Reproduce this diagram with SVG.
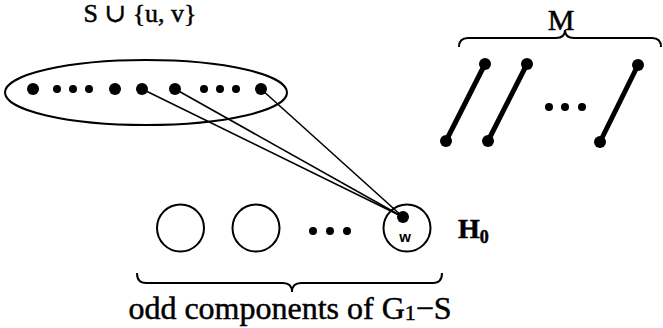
<svg xmlns="http://www.w3.org/2000/svg" width="663" height="328" viewBox="0 0 663 328">
<style>
.t{font-family:"Liberation Serif","DejaVu Serif",serif;fill:#000;stroke:#000;stroke-width:0.5}
.thin{fill:none;stroke:#000;stroke-width:2}
.edge{fill:none;stroke:#000;stroke-width:1.6}
.match{fill:none;stroke:#000;stroke-width:5;stroke-linecap:round}
.big{fill:#000}
</style>
<rect width="663" height="328" fill="#fff"/>
<g id="label-set"><text class="t" x="140" y="22" font-size="26" text-anchor="middle">S ∪ {u, v}</text></g>
<g id="connectors">
<line class="edge" x1="142" y1="89" x2="403" y2="217"/>
<line class="edge" x1="175" y1="89" x2="403" y2="217"/>
<line class="edge" x1="261" y1="89" x2="403" y2="217"/>
</g>
<g id="set-ellipse">
<ellipse class="thin" cx="146" cy="92.5" rx="141" ry="32.5"/>
<circle class="big" cx="33" cy="89" r="6"/>
<circle class="big" cx="57" cy="89" r="4"/>
<circle class="big" cx="73" cy="89" r="4"/>
<circle class="big" cx="89" cy="89" r="4"/>
<circle class="big" cx="115" cy="89" r="6"/>
<circle class="big" cx="142" cy="89" r="6"/>
<circle class="big" cx="175" cy="89" r="6"/>
<circle class="big" cx="204" cy="89" r="4"/>
<circle class="big" cx="220" cy="89" r="4"/>
<circle class="big" cx="236" cy="89" r="4"/>
<circle class="big" cx="261" cy="89" r="6"/>
</g>
<g id="matching-M">
<path class="thin" d="M459 47 Q459 38 468 38 L556 38 Q565 38 565 30 Q565 38 574 38 L652 38 Q661 38 661 47"/>
<text class="t" x="561" y="30" font-size="30" text-anchor="middle">M</text>
<line class="match" x1="485" y1="64" x2="446" y2="141"/>
<circle class="big" cx="485" cy="64" r="6"/><circle class="big" cx="446" cy="141" r="6"/>
<line class="match" x1="527" y1="64" x2="488" y2="141"/>
<circle class="big" cx="527" cy="64" r="6"/><circle class="big" cx="488" cy="141" r="6"/>
<circle class="big" cx="549" cy="107" r="4"/><circle class="big" cx="565" cy="107" r="4"/><circle class="big" cx="582" cy="107" r="4"/>
<line class="match" x1="638" y1="65" x2="600" y2="142"/>
<circle class="big" cx="638" cy="65" r="6"/><circle class="big" cx="600" cy="142" r="6"/>
</g>
<g id="comp-1"><circle class="thin" cx="180.5" cy="228" r="23.5"/></g>
<g id="comp-2"><circle class="thin" cx="256" cy="228" r="23.5"/></g>
<g id="comp-dots">
<circle class="big" cx="313" cy="231" r="4"/><circle class="big" cx="330" cy="231" r="4"/><circle class="big" cx="347" cy="231" r="4"/>
</g>
<g id="H0">
<circle class="thin" cx="407" cy="228" r="23.5"/>
<circle class="big" cx="403" cy="217" r="6"/>
<text x="405" y="242" font-family="'Liberation Sans',Arial,sans-serif" font-weight="bold" font-size="15" text-anchor="middle">w</text>
<text class="t" x="458" y="238" font-size="28" font-weight="bold">H<tspan font-size="18" dy="5">0</tspan></text>
</g>
<g id="odd-label">
<path class="thin" d="M137 273 Q137 283 146 283 L283 283 Q292 283 292 292 Q292 283 301 283 L433 283 Q442 283 442 273"/>
<text class="t" x="290" y="319" font-size="32" text-anchor="middle">odd components of G<tspan font-size="22" dy="1">1</tspan><tspan dy="-1">−S</tspan></text>
</g>
</svg>
